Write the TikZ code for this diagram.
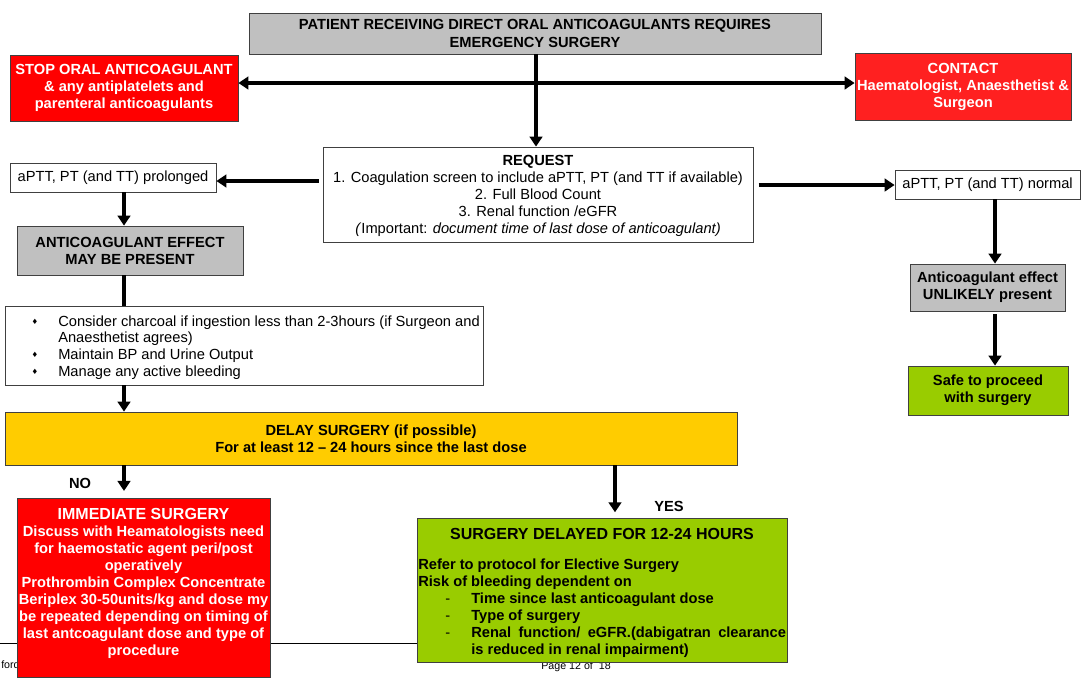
\documentclass[tikz,border=0pt]{standalone}
\usepackage{fontspec}
\setmainfont{Liberation Sans}
\newfontfamily\symf{DejaVu Sans}
\usetikzlibrary{arrows.meta}
\definecolor{cgray}{HTML}{C0C0C0}
\definecolor{cred}{HTML}{FF0000}
\definecolor{ccontact}{HTML}{FF2020}
\definecolor{cyellow}{HTML}{FFCC00}
\definecolor{cgreen}{HTML}{99CC00}
\definecolor{cborder}{HTML}{404040}
\newcommand{\fsz}{\fontsize{11}{12.75}\selectfont}
\newcommand{\fbig}{\fontsize{12}{12.75}\selectfont}
\begin{document}
\begin{tikzpicture}[x=0.75pt,y=-0.75pt,
  wh/.style 2 args={minimum width=#1*0.75pt, minimum height=#2*0.75pt},
  box/.style={draw=cborder, line width=0.6pt, inner sep=0pt, align=center, font=\fsz},
  bbox/.style={box, font=\fsz\bfseries},
  arr/.style={line width=2.4pt, -{Triangle[length=7.5pt,width=9.5pt]}},
  conn/.style={line width=2.4pt},
  txt/.style={inner sep=0pt, anchor=base west, font=\fsz},
  btxt/.style={txt, font=\fsz\bfseries},
  lbl/.style={inner sep=0pt, font=\fsz\bfseries},
  foot/.style={inner sep=0pt, font=\fontsize{8}{9}\selectfont},
  bulletmark/.style={inner sep=0pt, font=\symf\fontsize{5.5}{5.5}\selectfont}
]
\useasboundingbox (0,0) rectangle (1081,697);
\fill[white] (0,0) rectangle (1081,697);

% footer remnants
\coordinate (fl) at (0,643);
\coordinate (fr) at (420,643);
\draw[line width=0.5pt] (fl) -- (fr);
\node[foot, anchor=base west] (ford) at (1,668) {ford};
\node[foot, anchor=base] (page) at (576,669) {Page 12 of\ \ 18};

% boxes
\node[bbox, fill=cgray, wh={572}{41}, font=\fontsize{11}{13.5}\selectfont\bfseries] (top) at (535,33.5)
  {PATIENT RECEIVING DIRECT ORAL ANTICOAGULANTS REQUIRES\\EMERGENCY SURGERY};
\node[bbox, fill=cred, text=white, wh={228}{66}] (stop) at (124,88)
  {STOP ORAL ANTICOAGULANT\\\& any antiplatelets and\\parenteral anticoagulants};
\node[bbox, fill=ccontact, text=white, wh={216}{67}] (contact) at (963,86.5)
  {CONTACT\\Haematologist, Anaesthetist \&\\Surgeon};
\node[box, fill=white, wh={430}{95}] (req) at (538,194.5) {};
\node[inner sep=0pt, align=center, font=\fsz] (reqt) at (538,196)
  {\textbf{REQUEST}\\1. Coagulation screen to include aPTT, PT (and TT if available)\\2. Full Blood Count\\3. Renal function /eGFR\\\textit{(}Important: \textit{document time of last dose of anticoagulant)}};
\node[box, fill=white, wh={206}{29}] (pro) at (113,177.5) {aPTT, PT (and TT) prolonged};
\node[box, fill=white, wh={185}{29}] (nor) at (987.5,184.5) {aPTT, PT (and TT) normal};
\node[bbox, fill=cgray, wh={226}{49}] (ace) at (130,250.5) {ANTICOAGULANT EFFECT\\MAY BE PRESENT};
\node[box, fill=white, wh={478}{79}] (bul) at (244,345.5) {};
\node[bbox, fill=cyellow, wh={732}{53}] (delay) at (371,438.5)
  {DELAY SURGERY (if possible)\\For at least 12 -- 24 hours since the last dose};
\node[box, fill=cred, wh={253}{179}] (imm) at (143.5,587.5) {};
\node[inner sep=0pt, align=center, text=white, font=\fsz\bfseries] (immt) at (143.5,583.5)
  {{\fbig IMMEDIATE SURGERY}\\Discuss with Heamatologists need\\for haemostatic agent peri/post\\operatively\\Prothrombin Complex Concentrate\\Beriplex 30-50units/kg and dose my\\be repeated depending on timing of\\last antcoagulant dose and type of\\procedure};
\node[box, fill=cgreen, wh={370}{144}] (sdl) at (602,590) {};
\node[bbox, fill=cgray, wh={155}{47}] (unl) at (987.5,287.5) {Anticoagulant effect\\UNLIKELY present};
\node[bbox, fill=cgreen, wh={160}{49}] (safe) at (988,390.5) {Safe to proceed\\with surgery};

% bullet list text
\node[bulletmark] (m1) at (35,322) {♦};
\node[bulletmark] (m2) at (35,355) {♦};
\node[bulletmark] (m3) at (35,372) {♦};
\node[txt] (b1) at (58,326) {Consider charcoal if ingestion less than 2-3hours (if Surgeon and};
\node[txt] (b1b) at (58,342.5) {Anaesthetist agrees)};
\node[txt] (b2) at (58,359) {Maintain BP and Urine Output};
\node[txt] (b3) at (58,376) {Manage any active bleeding};

% green box text
\node[inner sep=0pt, anchor=base, font=\fbig\bfseries] (st) at (602,539) {SURGERY DELAYED FOR 12-24 HOURS};
\node[btxt] (g1) at (418,569) {Refer to protocol for Elective Surgery};
\node[btxt] (g2) at (418,586) {Risk of bleeding dependent on};
\node[txt] (d1) at (445,603) {-};
\node[txt] (d2) at (445,620) {-};
\node[txt] (d3) at (445,637) {-};
\node[btxt] (g3) at (471,603) {Time since last anticoagulant dose};
\node[btxt] (g4) at (471,620) {Type of surgery};
\node[btxt] (g5) at (471,637) {\makebox[236pt][l]{Renal\hfill function/\hfill eGFR.(dabigatran\hfill clearance}};
\node[btxt] (g6) at (471,654) {is reduced in renal impairment)};

% labels
\node[lbl] (no) at (80,483) {NO};
\node[lbl] (yes) at (669,506) {YES};

% helper coordinates
\coordinate (hj) at (536,83);
\coordinate (ya) at (0,181);
\coordinate (yb) at (0,185);
\coordinate (cl) at (124,0);
\coordinate (cr) at (995,0);
\coordinate (cy) at (615,0);

% connectors
\draw[arr] (top.south -| hj) -- (req.north -| hj);
\draw[arr] (hj) -- (stop.east |- hj);
\draw[arr] (hj) -- (contact.west |- hj);
\draw[arr, shorten <=3pt] (req.west |- ya) -- (pro.east |- ya);
\draw[arr, shorten <=4pt] (req.east |- yb) -- (nor.west |- yb);
\draw[arr] (pro.south -| cl) -- (ace.north -| cl);
\draw[conn] (ace.south -| cl) -- (bul.north -| cl);
\draw[arr] (bul.south -| cl) -- (delay.north -| cl);
\draw[arr, shorten >=5pt] (delay.south -| cl) -- (imm.north -| cl);
\draw[arr, shorten >=4pt] (delay.south -| cy) -- (sdl.north -| cy);
\draw[arr] (nor.south -| cr) -- (unl.north -| cr);
\draw[arr, shorten <=2pt] (unl.south -| cr) -- (safe.north -| cr);
\end{tikzpicture}
\end{document}
